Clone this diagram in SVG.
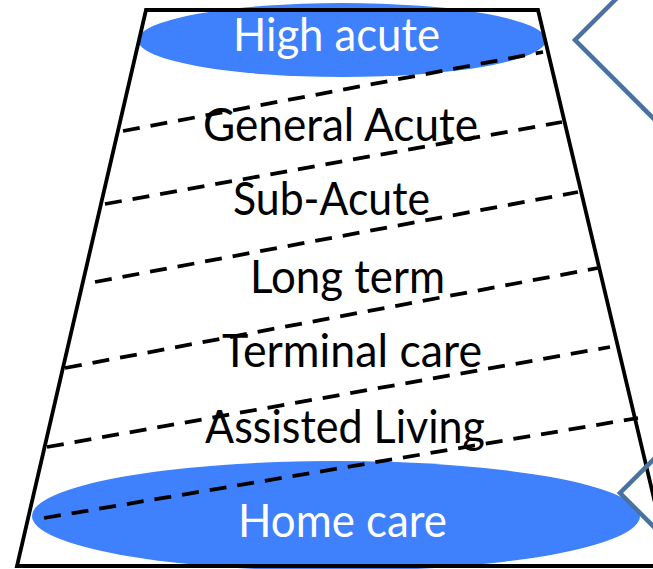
<svg xmlns="http://www.w3.org/2000/svg" width="653" height="569" viewBox="0 0 653 569">
<style>
.band{fill:#3f80fd;}
.edge{fill:none;stroke:#000;stroke-width:3.8;stroke-linejoin:miter;}
.dash{fill:none;stroke:#000;stroke-width:3.8;stroke-dasharray:17 11;}
.chev{fill:none;stroke:#4a72a0;stroke-width:4.5;}
.lbl{font-family:Lato,"Liberation Sans",sans-serif;font-size:46px;fill:#000;}
.wlbl{font-family:Lato,"Liberation Sans",sans-serif;font-size:46px;fill:#fff;}
</style>
<rect width="653" height="569" fill="#fff"/>
<g id="high-acute-band"><ellipse class="band" cx="342" cy="40" rx="204" ry="37"/></g>
<g id="home-care-band"><ellipse class="band" cx="336" cy="516" rx="304" ry="55"/></g>
<g id="pyramid"><polygon class="edge" points="146,10 538,10 670,566 17,566"/></g>
<g id="connectors">
<line class="dash" x1="123" y1="131" x2="543" y2="52"/>
<line class="dash" x1="105" y1="204" x2="562" y2="122"/>
<line class="dash" x1="95" y1="282" x2="578" y2="192"/>
<line class="dash" x1="65" y1="368" x2="598" y2="268"/>
<line class="dash" x1="47" y1="447" x2="610" y2="347"/>
<line class="dash" x1="44" y1="518" x2="638" y2="418"/>
</g>
<g id="high-acute"><text class="wlbl" x="233" y="51" textLength="207" lengthAdjust="spacingAndGlyphs">High acute</text></g>
<g id="general-acute"><text class="lbl" x="203" y="141" textLength="275" lengthAdjust="spacingAndGlyphs">General Acute</text></g>
<g id="sub-acute"><text class="lbl" x="233" y="215" textLength="197" lengthAdjust="spacingAndGlyphs">Sub-Acute</text></g>
<g id="long-term"><text class="lbl" x="250" y="293" textLength="195" lengthAdjust="spacingAndGlyphs">Long term</text></g>
<g id="terminal-care"><text class="lbl" x="222" y="367" textLength="260" lengthAdjust="spacingAndGlyphs">Terminal care</text></g>
<g id="assisted-living"><text class="lbl" x="205" y="443" textLength="280" lengthAdjust="spacingAndGlyphs">Assisted Living</text></g>
<g id="home-care"><text class="wlbl" x="238" y="537" textLength="209" lengthAdjust="spacingAndGlyphs">Home care</text></g>
<g id="chevron-top"><polyline class="chev" points="620,-5 575,40 660,125"/></g>
<g id="chevron-bottom"><polyline class="chev" points="660,453 620,493 660,533"/></g>
</svg>
